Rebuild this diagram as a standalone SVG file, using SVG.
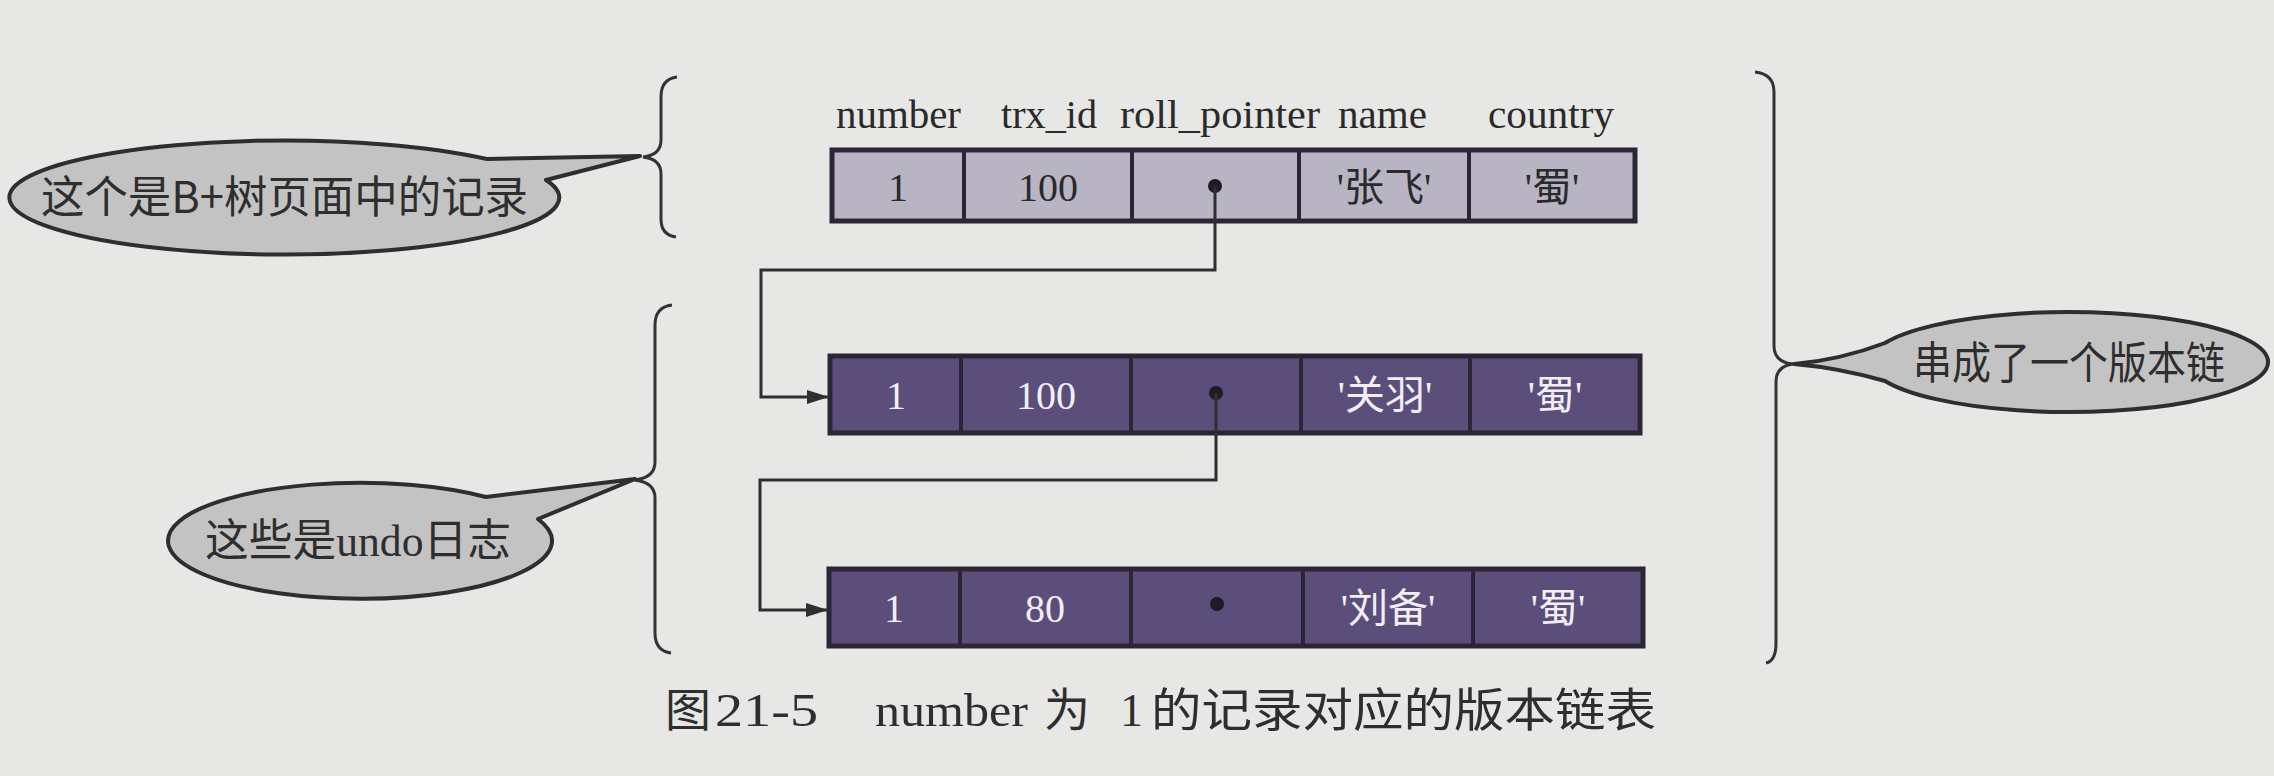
<svg xmlns="http://www.w3.org/2000/svg" width="2274" height="776" viewBox="0 0 2274 776">
<defs>
<style>
.bg{fill:#e7e7e5}
.hdr{font-family:"Liberation Serif","Noto Sans CJK SC",serif;font-size:40px;fill:#2a2a2a}
.cell1{font-family:"Liberation Serif","Noto Sans CJK SC",serif;font-size:40px;fill:#2a2a2a;text-anchor:middle}
.cell2{font-family:"Liberation Serif","Noto Sans CJK SC",serif;font-size:40px;fill:#f1eff5;text-anchor:middle}
.row1{fill:#b8b4c3;stroke:#2c2535;stroke-width:5}
.row2{fill:#5c4e7b;stroke:#2c2535;stroke-width:5}
.div{stroke:#2c2535;stroke-width:4}
.dot{fill:#1f1a24}
.conn{fill:none;stroke:#2f2f2f;stroke-width:3}
.brace{fill:none;stroke:#333;stroke-width:3}
.bubble{fill:#c3c3c3;stroke:#2e2e2e;stroke-width:4;stroke-linejoin:round}
.btxt{font-family:"Noto Sans CJK SC",sans-serif;font-size:44px;fill:#2e2e2e}
.cap{font-family:"Noto Sans CJK SC",sans-serif;font-size:46px;fill:#2e2e2e}
.capl{font-family:"Liberation Serif",serif;font-size:46px;fill:#2e2e2e}
</style>
<marker id="arr" viewBox="0 0 22 14" refX="22" refY="7" markerWidth="22" markerHeight="14" markerUnits="userSpaceOnUse" orient="auto">
<path d="M0,0 L22,7 L0,14 Z" fill="#2f2f2f"/>
</marker>
</defs>
<rect class="bg" x="0" y="0" width="2274" height="776"/>

<g id="headers">
<text class="hdr" x="836" y="128" textLength="125" lengthAdjust="spacingAndGlyphs">number</text>
<text class="hdr" x="1001" y="128" textLength="96" lengthAdjust="spacingAndGlyphs">trx_id</text>
<text class="hdr" x="1120" y="128" textLength="200" lengthAdjust="spacingAndGlyphs">roll_pointer</text>
<text class="hdr" x="1338" y="128" textLength="89" lengthAdjust="spacingAndGlyphs">name</text>
<text class="hdr" x="1488" y="128" textLength="126" lengthAdjust="spacingAndGlyphs">country</text>
</g>

<g id="record1">
<rect class="row1" x="832" y="150" width="803" height="71"/>
<line class="div" x1="964" y1="150" x2="964" y2="221"/>
<line class="div" x1="1132" y1="150" x2="1132" y2="221"/>
<line class="div" x1="1299" y1="150" x2="1299" y2="221"/>
<line class="div" x1="1469" y1="150" x2="1469" y2="221"/>
<text class="cell1" x="898" y="201">1</text>
<text class="cell1" x="1048" y="201">100</text>
<circle class="dot" cx="1215" cy="186" r="7"/>
<text class="cell1" x="1384" y="201">'张飞'</text>
<text class="cell1" x="1552" y="201">'蜀'</text>
</g>

<g id="record2">
<rect class="row2" x="830" y="356" width="810" height="77"/>
<line class="div" x1="961" y1="356" x2="961" y2="433"/>
<line class="div" x1="1131" y1="356" x2="1131" y2="433"/>
<line class="div" x1="1301" y1="356" x2="1301" y2="433"/>
<line class="div" x1="1470" y1="356" x2="1470" y2="433"/>
<text class="cell2" x="896" y="409">1</text>
<text class="cell2" x="1046" y="409">100</text>
<circle class="dot" cx="1216" cy="393" r="7"/>
<text class="cell2" x="1385" y="409">'关羽'</text>
<text class="cell2" x="1555" y="409">'蜀'</text>
</g>

<g id="record3">
<rect class="row2" x="829" y="569" width="814" height="77"/>
<line class="div" x1="960" y1="569" x2="960" y2="646"/>
<line class="div" x1="1131" y1="569" x2="1131" y2="646"/>
<line class="div" x1="1303" y1="569" x2="1303" y2="646"/>
<line class="div" x1="1473" y1="569" x2="1473" y2="646"/>
<text class="cell2" x="894" y="622">1</text>
<text class="cell2" x="1045" y="622">80</text>
<circle class="dot" cx="1217" cy="604" r="7"/>
<text class="cell2" x="1388" y="622">'刘备'</text>
<text class="cell2" x="1558" y="622">'蜀'</text>
</g>

<g id="connectors">
<path class="conn" d="M1215,186 V270 H761 V397 H829" marker-end="url(#arr)"/>
<path class="conn" d="M1216,393 V480 H760 V610 H828" marker-end="url(#arr)"/>
</g>

<g id="braces">
<path class="brace" d="M677,77 Q661,79 661,97 L661,140 Q661,155 643,157 Q661,159 661,174 L661,219 Q661,235 676,237"/>
<path class="brace" d="M672,305 Q655,307 655,325 L655,462 Q655,478 634,480 Q655,482 655,498 L655,633 Q655,651 671,653"/>
<path class="brace" d="M1755,72 Q1774,74 1774,92 L1774,346 Q1774,362 1793,364 Q1776,366 1776,382 L1776,643 Q1776,661 1766,663"/>
</g>

<g id="bubble1">
<path class="bubble" d="M487,159 L640,156 L546,180 A275,57 0 1 1 487,159 Z"/>
<text class="btxt" x="41" y="213" textLength="487" lengthAdjust="spacingAndGlyphs">这个是B+树页面中的记录</text>
</g>

<g id="bubble2">
<path class="bubble" d="M486,497 L635,479 L538,519 A192,58 0 1 1 486,497 Z"/>
<text class="btxt" x="205" y="556" textLength="306" lengthAdjust="spacingAndGlyphs">这些是<tspan font-family="Liberation Serif">undo</tspan>日志</text>
</g>

<g id="bubble3">
<path class="bubble" d="M1885,343 Q1840,360 1794,364 Q1840,368 1885,381 A199,50 0 1 0 1885,343 Z"/>
<text class="btxt" x="1913" y="379" textLength="312" lengthAdjust="spacingAndGlyphs">串成了一个版本链</text>
</g>

<g id="caption">
<text class="cap" x="665" y="726">图</text>
<text class="capl" x="715" y="726" textLength="103" lengthAdjust="spacingAndGlyphs">21-5</text>
<text class="capl" x="875" y="726" textLength="153" lengthAdjust="spacingAndGlyphs">number</text>
<text class="cap" x="1044" y="726">为</text>
<text class="capl" x="1120" y="726">1</text>
<text class="cap" x="1151" y="726" textLength="505" lengthAdjust="spacingAndGlyphs">的记录对应的版本链表</text>
</g>
</svg>
